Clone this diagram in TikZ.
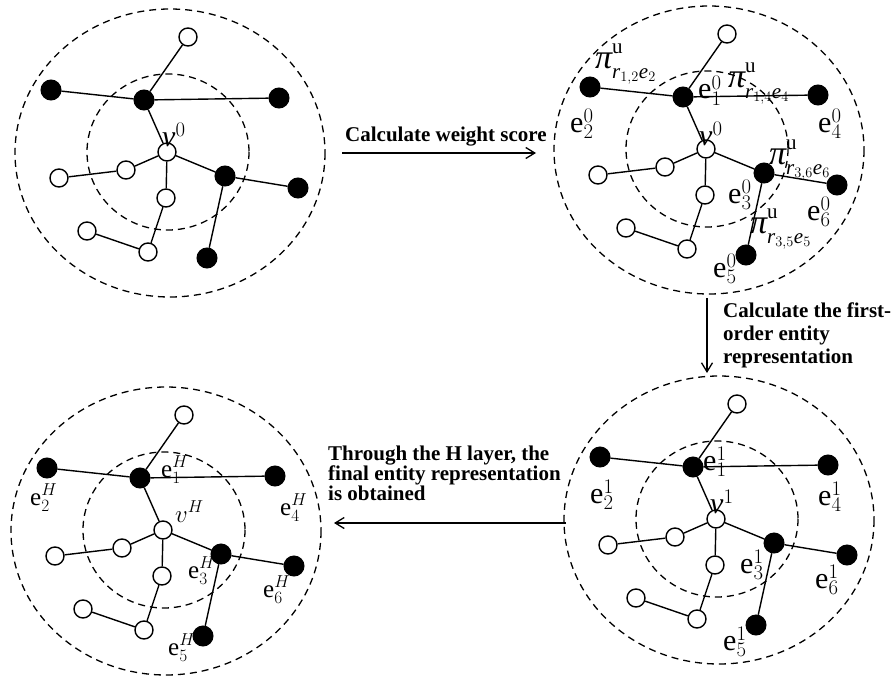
\documentclass[tikz,border=0pt]{standalone}
\usepackage{fontspec}
\setmainfont{Liberation Serif}
\usetikzlibrary{arrows.meta}
\tikzset{
  dashline/.style={dash pattern=on 7pt off 5pt, line width=1.3pt},
  edge/.style={line width=1.4pt},
  bnode/.style={circle, fill=black, draw=black, line width=1pt, minimum size=20pt, inner sep=0pt},
  wnode/.style={circle, fill=white, draw=black, line width=1.4pt, minimum size=18pt, inner sep=0pt},
  lab/.style={inner sep=0pt, anchor=base west, font=\fontsize{30}{32}\selectfont},
  labh/.style={inner sep=0pt, anchor=base west, font=\fontsize{25}{27}\selectfont},
  caption/.style={inner sep=0pt, anchor=base west, align=left},
  flow/.style={line width=1.5pt, -{Straight Barb[length=9pt,width=11pt,line width=1.3pt]}},
}
\newcommand\piw[2]{{\fontsize{34}{34}\selectfont\itshape π}\rlap{\raisebox{15pt}{\fontsize{21}{21}\selectfont u}}\raisebox{-10pt}{\fontsize{21}{21}\selectfont$\mathit{r}_{#1}\mathit{e}_{#2}$}}
\newcommand\drawgraph[3]{%
  \begin{scope}[shift={(#2,#3)}]
    \draw[dashline] (3,1) ellipse [x radius=155, y radius=144];
    \draw[dashline] (1,0) ellipse [x radius=81, y radius=78];
    \node[wnode] (#1v) at (0,0) {};
    \node[wnode] (#1t) at (21,-115) {};
    \node[bnode] (#1e2) at (-116,-62) {};
    \node[bnode] (#1e1) at (-23,-52) {};
    \node[bnode] (#1e4) at (112,-54) {};
    \node[wnode] (#1m) at (-41,18) {};
    \node[wnode] (#1f) at (-108,26) {};
    \node[wnode] (#1d) at (-1,46) {};
    \node[bnode] (#1e3) at (58,24) {};
    \node[bnode] (#1e6) at (131,36) {};
    \node[bnode] (#1e5) at (40,106) {};
    \node[wnode] (#1ll) at (-80,79) {};
    \node[wnode] (#1lo) at (-19,100) {};
    \draw[edge] (#1t) -- (#1e1);
    \draw[edge] (#1e2) -- (#1e1);
    \draw[edge] (#1e1) -- (#1e4);
    \draw[edge] (#1e1) -- (#1v);
    \draw[edge] (#1v) -- (#1e3);
    \draw[edge] (#1e3) -- (#1e6);
    \draw[edge] (#1e3) -- (#1e5);
    \draw[edge] (#1v) -- (#1m);
    \draw[edge] (#1m) -- (#1f);
    \draw[edge] (#1v) -- (#1d);
    \draw[edge] (#1d) -- (#1lo);
    \draw[edge] (#1lo) -- (#1ll);
  \end{scope}}
\begin{document}
\begin{tikzpicture}[x=1pt, y=-1pt]
\useasboundingbox (0,0) rectangle (894,677);
\drawgraph{TL}{167}{152}
\drawgraph{TR}{706}{149}
\drawgraph{BR}{716}{519}
\drawgraph{BL}{163}{530}
% labels TL
\node[lab] (TLlv) at ([shift={(-5,-6)}]TLv.center) {$\mathit{v}^{0}$};
% labels TR
\node[lab] (TRlv) at ([shift={(-7,-4)}]TRv.center) {$\mathit{v}^{0}$};
\node[lab] (TRl1) at ([shift={(-8,-50)}]TRv.center) {$\mathrm{e}^{0}_{1}$};
\node[lab] (TRl2) at ([shift={(-136,-17)}]TRv.center) {$\mathrm{e}^{0}_{2}$};
\node[lab] (TRl4) at ([shift={(112,-17)}]TRv.center) {$\mathrm{e}^{0}_{4}$};
\node[lab] (TRl3) at ([shift={(22,54)}]TRv.center) {$\mathrm{e}^{0}_{3}$};
\node[lab] (TRl6) at ([shift={(101,71)}]TRv.center) {$\mathrm{e}^{0}_{6}$};
\node[lab] (TRl5) at ([shift={(7,128)}]TRv.center) {$\mathrm{e}^{0}_{5}$};
\node[lab] (TRp12) at ([shift={(-111,-81)}]TRv.center) {\piw{1,2}{2}};
\node[lab] (TRp14) at ([shift={(22,-61)}]TRv.center) {\piw{1,4}{4}};
\node[lab] (TRp36) at ([shift={(63,15)}]TRv.center) {\piw{3,6}{6}};
\node[lab] (TRp35) at ([shift={(44,84)}]TRv.center) {\piw{3,5}{5}};
% labels BR
\node[lab] (BRlv) at ([shift={(-6,-6)}]BRv.center) {$\mathit{v}^{1}$};
\node[lab] (BRl1) at ([shift={(-13,-49)}]BRv.center) {$\mathrm{e}^{1}_{1}$};
\node[lab] (BRl2) at ([shift={(-126,-16)}]BRv.center) {$\mathrm{e}^{1}_{2}$};
\node[lab] (BRl4) at ([shift={(102,-14)}]BRv.center) {$\mathrm{e}^{1}_{4}$};
\node[lab] (BRl3) at ([shift={(24,54)}]BRv.center) {$\mathrm{e}^{1}_{3}$};
\node[lab] (BRl6) at ([shift={(99,69)}]BRv.center) {$\mathrm{e}^{1}_{6}$};
\node[lab] (BRl5) at ([shift={(7,131)}]BRv.center) {$\mathrm{e}^{1}_{5}$};
% labels BL
\node[labh] (BLlv) at ([shift={(12,-8)}]BLv.center) {$v^{H}$};
\node[labh] (BLl1) at ([shift={(-2,-53)}]BLv.center) {$\mathrm{e}^{H}_{1}$};
\node[labh] (BLl2) at ([shift={(-133,-25)}]BLv.center) {$\mathrm{e}^{H}_{2}$};
\node[labh] (BLl4) at ([shift={(117,-15)}]BLv.center) {$\mathrm{e}^{H}_{4}$};
\node[labh] (BLl3) at ([shift={(25,48)}]BLv.center) {$\mathrm{e}^{H}_{3}$};
\node[labh] (BLl6) at ([shift={(100,67)}]BLv.center) {$\mathrm{e}^{H}_{6}$};
\node[labh] (BLl5) at ([shift={(5,125)}]BLv.center) {$\mathrm{e}^{H}_{5}$};
% arrows
\coordinate (a1s) at (342,153);
\coordinate (a1e) at (536,153);
\draw[flow] (a1s) -- (a1e);
\coordinate (a2s) at (707,298);
\coordinate (a2e) at (707,373);
\draw[flow] (a2s) -- (a2e);
\coordinate (a3s) at (566,523);
\coordinate (a3e) at (334,523);
\draw[flow] (a3s) -- (a3e);
% captions (base anchor = last line)
\node[caption, font=\fontsize{21}{23}\selectfont\bfseries] (cap1) at (345,141) {Calculate weight score};
\node[caption, font=\fontsize{21}{23}\selectfont\bfseries] (cap2) at (723,363) {Calculate the first-\\order entity\\representation};
\node[caption, font=\fontsize{21}{20}\selectfont\bfseries] (cap3) at (328,500) {Through the H layer, the\\final entity representation\\is obtained};
\end{tikzpicture}
\end{document}
